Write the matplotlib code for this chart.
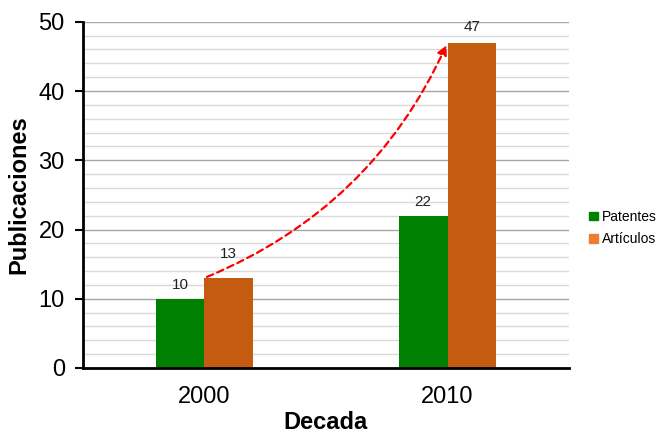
import numpy as np
import matplotlib
matplotlib.use("Agg")
import matplotlib.pyplot as plt
from matplotlib.patches import Patch

plt.rcParams['font.family'] = ['Liberation Sans', 'DejaVu Sans']

decadas = ['2000', '2010']
patentes = [10, 22]
articulos = [13, 47]

verde = '#008000'
naranja = '#C55A11'
naranja_leyenda = '#ED7D31'

fig = plt.figure(figsize=(6.68, 4.36), dpi=100)
ax = fig.add_axes([0.124, 0.156, 0.728, 0.794])

x = np.arange(len(decadas))
w = 0.2
b1 = ax.bar(x - w / 2, patentes, w, color=verde, zorder=3)
b2 = ax.bar(x + w / 2, articulos, w, color=naranja, zorder=3)

# etiquetas de datos (el 13 va un poco mas arriba para no tapar la flecha)
desfases = [[5, 5], [12, 6]]
for bars, vals, des in ((b1, patentes, desfases[0]), (b2, articulos, desfases[1])):
    for r, v, d in zip(bars, vals, des):
        ax.annotate(str(v), (r.get_x() + r.get_width() / 2, v),
                    xytext=(0, d), textcoords='offset points',
                    ha='center', va='bottom', fontsize=11, color='#222222')

# flecha de crecimiento
ax.annotate('', xy=(x[1], articulos[1]), xytext=(x[0], articulos[0]),
            arrowprops=dict(arrowstyle='-|>', color='red', lw=1.6,
                            linestyle=(0, (3, 2)), mutation_scale=14,
                            connectionstyle='arc3,rad=0.2'),
            zorder=5)

ax.set_xlim(-0.5, 1.5)
ax.set_ylim(0, 50)
ax.set_xticks(x)
ax.set_xticklabels(decadas, fontsize=17)
ax.set_yticks(np.arange(0, 51, 10))
ax.set_yticks(np.arange(0, 51, 2), minor=True)
ax.tick_params(axis='y', labelsize=17, length=6, width=1.5, direction='out', pad=7)
ax.tick_params(axis='y', which='minor', length=0)
ax.tick_params(axis='x', length=0, pad=13)

ax.grid(axis='y', which='major', color='#A6A6A6', lw=1, zorder=0)
ax.grid(axis='y', which='minor', color='#D9D9D9', lw=1, zorder=0)

for s in ('top', 'right'):
    ax.spines[s].set_visible(False)
ax.spines['left'].set_linewidth(2)
ax.spines['bottom'].set_linewidth(2)
ax.spines['left'].set_zorder(4)
ax.spines['bottom'].set_zorder(4)

ax.set_ylabel('Publicaciones', fontsize=17, fontweight='bold', labelpad=6)
ax.set_xlabel('Decada', fontsize=17, fontweight='bold', labelpad=2)

handles = [Patch(color=verde, label='Patentes'),
           Patch(color=naranja_leyenda, label='Artículos')]
fig.legend(handles=handles, loc='center left', bbox_to_anchor=(0.87, 0.477),
           frameon=False, fontsize=10, handlelength=0.6, handleheight=0.6,
           handletextpad=0.3, labelspacing=0.6, borderaxespad=0.2)

fig.savefig('out.png', dpi=100)
